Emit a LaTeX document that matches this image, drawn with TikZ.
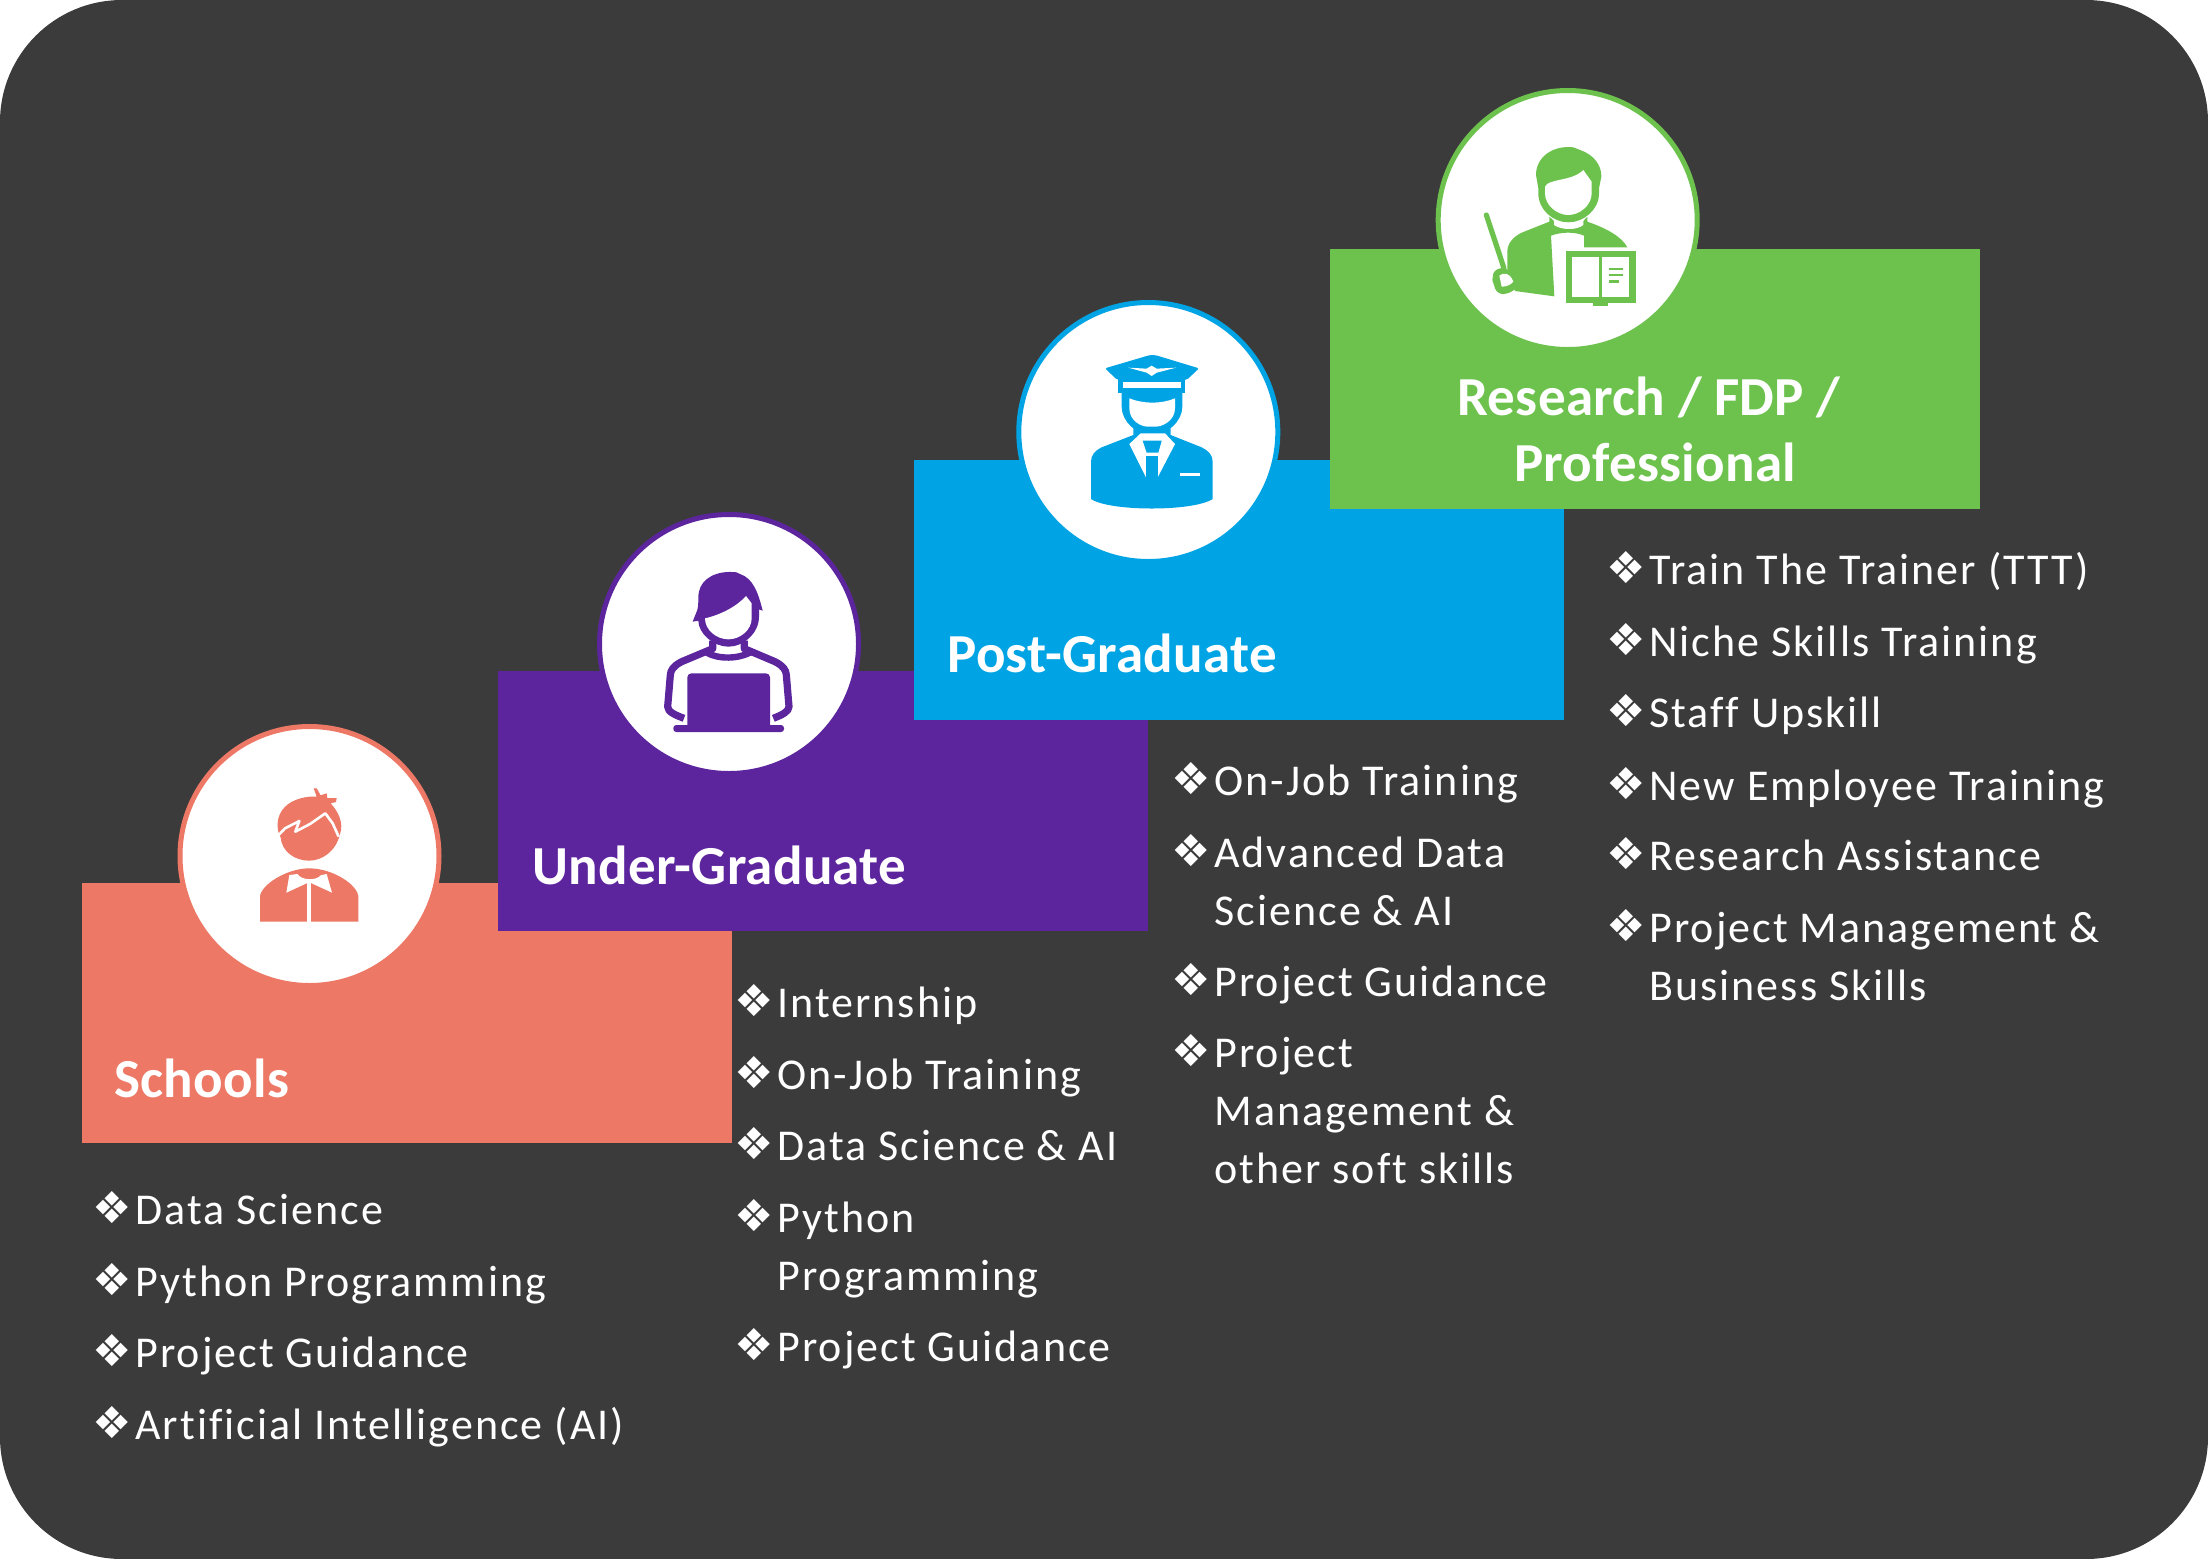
\documentclass[tikz,border=0pt]{standalone}
\usepackage{fontspec}
\setmainfont{Carlito}
\newfontfamily\dejavu{DejaVu Sans}
\newfontfamily\listfont[LetterSpace=4.6,Ligatures=CommonOff]{Carlito}
\newfontfamily\headfont[LetterSpace=0.5,Ligatures=CommonOff]{Carlito}
\definecolor{bgdark}{RGB}{59,59,59}
\definecolor{coral}{RGB}{236,120,101}
\definecolor{violetb}{RGB}{92,37,158}
\definecolor{skyb}{RGB}{0,164,228}
\definecolor{leaf}{RGB}{108,194,77}
\tikzset{
  stepbox/.style={rectangle,fill=#1,draw=none,inner sep=0pt,minimum width=325pt,minimum height=130pt},
  medal/.style={circle,fill=white,draw=#1,line width=2.5pt,inner sep=0pt,minimum size=129.5pt},
  head/.style={text=white,inner sep=0pt,font=\headfont\fontsize{27.5}{32}\selectfont\bfseries},
  txt/.style={text=white,inner sep=0pt,anchor=base west,font=\listfont\fontsize{22}{26}\selectfont},
  bul/.style={text=white,inner sep=0pt,anchor=base west,font=\dejavu\fontsize{22}{26}\selectfont},
  zoomed/.style={x=0.166667pt,y=-0.166667pt},
}
\newcommand{\entry}[4]{%
  \node[bul] (#1b) at (#2-43,#3-1) {❖};
  \node[txt] (#1) at (#2,#3) {#4};}
\begin{document}
\begin{tikzpicture}[x=0.5pt,y=-0.5pt]
\useasboundingbox (0,0) rectangle (2208,1559);
\fill[bgdark] (0,0) [rounded corners=61pt] rectangle (2208,1559);

% steps
\node[stepbox=coral]   (s1) at (407,1013) {};
\node[stepbox=violetb] (s2) at (823,801) {};
\node[stepbox=skyb]    (s3) at (1239,590) {};
\node[medal=coral]     (c1) at (309.5,856) {};
\node[medal=violetb]   (c2) at (729,644) {};
\node[medal=skyb]      (c3) at (1148.3,432) {};
\node[stepbox=leaf]    (s4) at (1655,379) {};
\node[medal=leaf]      (c4) at (1567.7,220) {};

% icon 1
\begin{scope}[shift={(170,720)},zoomed]
\fill[coral] (328,345) .. controls (312,300) and (330,240) .. (418,230) -- (440,230) -- (431,205) -- (440,205) -- (452,226) -- (470,220) -- (472,234) -- (500,234) -- (498,246) -- (482,250) .. controls (505,275) and (522,310) .. (510,342) .. controls (498,395) and (455,422) .. (417,422) .. controls (375,422) and (335,395) .. (332,352) -- cycle;
\draw[white,line width=1.3pt,line join=round] (326,345) -- (345,325) -- (388,303) -- (376,335) -- (420,312) -- (466,280) -- (488,310) -- (506,350);
\fill[coral] (270,605) -- (270,530) .. controls (272,495) and (350,445) .. (417,445) .. controls (490,445) and (563,495) .. (565,530) -- (565,605) -- cycle;
\fill[white] (358,465) -- (349,518) -- (412,489) -- (423,489) -- (486,518) -- (470,462) -- (452,466) .. controls (440,482) and (395,482) .. (382,462) -- cycle;
\fill[white] (412,488) rectangle (423,606);
\end{scope}

% icon 2
\begin{scope}[shift={(590,510)},zoomed]
\fill[violetb] (308,335) -- (322,300) .. controls (328,280) and (322,260) .. (327,245) .. controls (335,205) and (380,180) .. (440,187) -- (450,192) .. controls (490,205) and (505,250) .. (518,302) -- (507,298) -- (507,320) .. controls (507,370) and (460,410) .. (415,410) .. controls (370,410) and (325,370) .. (325,332) -- cycle;
\fill[white] (345,325) .. controls (390,315) and (440,290) .. (468,258) -- (485,280) -- (485,325) .. controls (485,360) and (450,388) .. (415,388) .. controls (380,388) and (345,360) .. (345,325) -- cycle;
\draw[violetb,line width=3.6pt,line join=round] (368,392) -- (368,416) -- (275,455) .. controls (250,468) and (242,480) .. (241,495) -- (233,590) .. controls (233,605) and (255,615) .. (282,625);
\draw[violetb,line width=3.6pt,line join=round] (463,392) -- (463,416) -- (555,455) .. controls (580,468) and (588,480) .. (589,495) -- (597,590) .. controls (597,605) and (575,615) .. (550,625);
\draw[violetb,line width=3.2pt] (350,428) .. controls (385,448) and (445,448) .. (485,425);
\fill[violetb,rounded corners=2pt] (292,660) -- (292,490) -- (540,490) -- (540,660) -- cycle;
\fill[violetb,rounded corners=1.5pt] (250,645) -- (582,645) -- (582,666) -- (250,666) -- cycle;
\end{scope}

% icon 3
\begin{scope}[shift={(1010,300)},zoomed]
\fill[skyb,rounded corners=1pt] (285,205) -- (420,165) -- (435,165) -- (567,205) -- (530,240) -- (322,240) -- cycle;
\fill[skyb] (325,235) rectangle (525,280);
\fill[skyb] (335,270) -- (335,320) .. controls (335,365) and (380,405) .. (425,405) .. controls (470,405) and (517,365) .. (517,320) -- (517,270) -- cycle;
\fill[white] (340,245) rectangle (512,263);
\fill[white] (358,295) .. controls (400,312) and (455,312) .. (495,295) -- (495,325) .. controls (495,360) and (460,382) .. (425,382) .. controls (390,382) and (358,360) .. (358,325) -- cycle;
\fill[white] (355,203) -- (410,206) -- (425,197) -- (440,206) -- (498,203) -- (440,218) -- (425,228) -- (410,218) -- cycle;
\fill[skyb] (370,380) -- (370,405) -- (275,442) .. controls (255,452) and (243,465) .. (243,485) -- (243,597) .. controls (300,635) and (550,635) .. (608,597) -- (608,485) .. controls (608,465) and (595,452) .. (575,442) -- (482,405) -- (482,380) -- cycle;
\fill[white] (358,432) -- (392,400) -- (465,400) -- (495,432) -- (443,532) -- (408,532) -- cycle;
\fill[skyb] (398,422) -- (455,422) -- (445,458) -- (410,458) -- cycle;
\fill[skyb] (408,467) rectangle (444,535);
\fill[white] (511,518) rectangle (569,529);
\end{scope}

% icon 4
\begin{scope}[shift={(1430,85)},zoomed]
\fill[leaf] (318,270) .. controls (318,215) and (370,180) .. (430,187) -- (450,195) .. controls (495,210) and (515,245) .. (514,275) -- (507,310) -- (507,325) .. controls (507,375) and (460,412) .. (415,412) .. controls (370,412) and (325,375) .. (325,325) -- (325,310) -- cycle;
\fill[white] (345,305) .. controls (355,280) and (425,290) .. (460,255) -- (485,290) -- (485,325) .. controls (485,360) and (450,390) .. (415,390) .. controls (380,390) and (345,360) .. (345,325) -- cycle;
\fill[leaf] (358,395) -- (358,410) -- (275,443) .. controls (250,455) and (232,475) .. (232,500) -- (232,560) -- (255,618) -- (373,634) -- (363,452) .. controls (395,440) and (435,440) .. (462,452) -- (462,487) -- (592,487) .. controls (575,455) and (530,430) .. (472,410) -- (472,395) -- (460,408) .. controls (440,418) and (395,418) .. (372,408) -- cycle;
\fill[white] (372,405) -- (372,420) .. controls (395,436) and (440,436) .. (460,420) -- (460,405) .. controls (440,416) and (395,416) .. (372,405) -- cycle;
\draw[leaf,line width=2.6pt,line cap=round] (169,390) -- (222,550);
\fill[leaf] (190,565) .. controls (200,545) and (235,540) .. (250,575) -- (258,610) .. controls (235,630) and (205,635) .. (195,610) -- (187,585) -- cycle;
\fill[white] (208,572) .. controls (218,562) and (240,562) .. (250,590) .. controls (240,602) and (225,605) .. (215,605) -- cycle;
\fill[leaf] (408,498) rectangle (617,655);
\fill[white] (427,517) rectangle (507,635);
\fill[white] (517,517) rectangle (598,635);
\fill[leaf] (537,548) rectangle (580,555);
\fill[leaf] (537,567) rectangle (580,574);
\fill[leaf] (537,585) rectangle (567,593);
\fill[leaf] (490,655) rectangle (535,663);
\end{scope}

% headings
\node[head,anchor=base west] (h1) at (114,1097) {Schools};
\node[head,anchor=base west] (h2) at (532,884) {Under-Graduate};
\node[head,anchor=base west] (h3) at (947,672) {Post-Graduate};
\node[head,anchor=base] (h4a) at (1649,415) {Research / FDP /};
\node[head,anchor=base] (h4b) at (1655,481) {Professional};

% lists
\entry{a1}{135}{1224}{Data Science}
\entry{a2}{135}{1296}{Python Programming}
\entry{a3}{135}{1367}{Project Guidance}
\entry{a4}{135}{1439}{Artificial Intelligence (AI)}

\entry{b1}{777}{1017}{Internship}
\entry{b2}{777}{1089}{On-Job Training}
\entry{b3}{777}{1160}{Data Science \& AI}
\entry{b4}{777}{1232}{Python}
\node[txt] (b4x) at (777,1290) {Programming};
\entry{b5}{777}{1361}{Project Guidance}

\entry{d1}{1214}{795}{On-Job Training}
\entry{d2}{1214}{867}{Advanced Data}
\node[txt] (d2x) at (1214,925) {Science \& AI};
\entry{d3}{1214}{996}{Project Guidance}
\entry{d4}{1214}{1067}{Project}
\node[txt] (d4x) at (1214,1125) {Management \&};
\node[txt] (d4y) at (1214,1183) {other soft skills};

\entry{e1}{1649}{584}{Train The Trainer (TTT)}
\entry{e2}{1649}{656}{Niche Skills Training}
\entry{e3}{1649}{727}{Staff Upskill}
\entry{e4}{1649}{800}{New Employee Training}
\entry{e5}{1649}{870}{Research Assistance}
\entry{e6}{1649}{942}{Project Management \&}
\node[txt] (e6x) at (1649,1000) {Business Skills};
\end{tikzpicture}
\end{document}
